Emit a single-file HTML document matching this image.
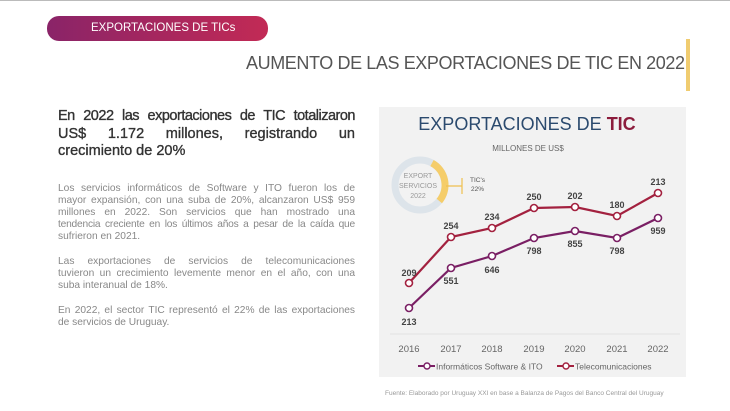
<!DOCTYPE html>
<html><head><meta charset="utf-8"><style>
body{margin:0;width:730px;height:411px;background:#fff;position:relative;overflow:hidden;font-family:"Liberation Sans",sans-serif}
.topline{position:absolute;left:0;top:0;width:730px;height:1px;background:#bbb}
.pill{position:absolute;left:47px;top:16px;width:221px;height:25px;border-radius:12px;background:linear-gradient(90deg,#8a2468,#c22a55);color:#fff;font-size:11.5px;line-height:25px;text-indent:44px}
.title{position:absolute;left:246px;top:53px;font-size:18px;color:#555;white-space:nowrap;letter-spacing:-0.4px}
.ybar{position:absolute;left:686px;top:39px;width:4px;height:52px;background:#f0cc70}
.h{position:absolute;left:58px;top:108px;width:297px;font-size:14.5px;line-height:17.5px;color:#333;-webkit-text-stroke:0.35px #333}
.h div,.p div{white-space:nowrap;text-align:justify;text-align-last:justify}
.h div.l,.p div.l{text-align-last:left}
.p{position:absolute;left:58px;width:297px;font-size:10.2px;line-height:12px;color:#888}
.src{position:absolute;left:385px;top:390px;font-size:6.5px;color:#999;white-space:nowrap}
</style></head><body>
<div class="topline"></div>
<div class="pill">EXPORTACIONES DE TICs</div>
<div class="title">AUMENTO DE LAS EXPORTACIONES DE TIC EN 2022</div>
<div class="ybar"></div>
<div class="h"><div style="letter-spacing:-0.5px">En 2022 las exportaciones de TIC totalizaron</div><div>US$ 1.172 millones, registrando un</div><div class="l">crecimiento de 20%</div></div>
<div class="p" style="top:183px"><div>Los servicios informáticos de Software y ITO fueron los de</div><div>mayor expansión, con una suba de 20%, alcanzaron US$ 959</div><div>millones en 2022. Son servicios que han mostrado una</div><div style="letter-spacing:-0.2px">tendencia creciente en los últimos años a pesar de la caída que</div><div class="l">sufrieron en 2021.</div></div>
<div class="p" style="top:256px"><div>Las exportaciones de servicios de telecomunicaciones</div><div>tuvieron un crecimiento levemente menor en el año, con una</div><div class="l">suba interanual de 18%.</div></div>
<div class="p" style="top:305px"><div>En 2022, el sector TIC representó el 22% de las exportaciones</div><div class="l">de servicios de Uruguay.</div></div>
<svg style="position:absolute;left:0;top:0" width="730" height="411">
<rect x="379" y="107" width="307" height="270" fill="#f2f2f2"/>
<text x="527" y="130" text-anchor="middle" font-size="18" fill="#2b4a6e" font-family="Liberation Sans">EXPORTACIONES DE <tspan fill="#8c1c3c" font-weight="bold">TIC</tspan></text>
<text x="528" y="151" text-anchor="middle" font-size="8" fill="#666" font-family="Liberation Sans">MILLONES DE US$</text>
<circle cx="420" cy="185" r="25" fill="none" stroke="#dde4ea" stroke-width="7"/>
<path d="M 432 163.1 A 25 25 0 0 1 439.3 201" fill="none" stroke="#f5cd6a" stroke-width="7"/>
<text x="418" y="178" text-anchor="middle" font-size="7" fill="#999">EXPORT</text>
<text x="418" y="188" text-anchor="middle" font-size="7" fill="#999">SERVICIOS</text>
<text x="418" y="198" text-anchor="middle" font-size="7" fill="#999">2022</text>
<path d="M446 186 H462 M462 178 V194" stroke="#f0c050" stroke-width="1.2"/>
<text x="470" y="182" font-size="6.5" fill="#555">TIC's</text>
<text x="471" y="191" font-size="6.5" fill="#555">22%</text>
<line x1="390" y1="334" x2="680" y2="334" stroke="#e2e2e2"/>
<g font-size="9.5" fill="#666" text-anchor="middle">
<text x="409" y="352">2016</text><text x="451" y="352">2017</text><text x="492" y="352">2018</text><text x="534" y="352">2019</text><text x="575" y="352">2020</text><text x="617" y="352">2021</text><text x="658" y="352">2022</text></g>
<polyline points="409,283 451,237 492,228 534,208 575,207 617,216 658,193" fill="none" stroke="#a3213f" stroke-width="2.2"/>
<polyline points="409,308 451,268 492,256 534,238 575,231 617,238 658,218" fill="none" stroke="#7a1f64" stroke-width="2.2"/>
<g fill="#fff" stroke="#a3213f" stroke-width="1.6">
<circle cx="409" cy="283" r="3.5"/><circle cx="451" cy="237" r="3.5"/><circle cx="492" cy="228" r="3.5"/><circle cx="534" cy="208" r="3.5"/><circle cx="575" cy="207" r="3.5"/><circle cx="617" cy="216" r="3.5"/><circle cx="658" cy="193" r="3.5"/></g>
<g fill="#fff" stroke="#7a1f64" stroke-width="1.6">
<circle cx="409" cy="308" r="3.5"/><circle cx="451" cy="268" r="3.5"/><circle cx="492" cy="256" r="3.5"/><circle cx="534" cy="238" r="3.5"/><circle cx="575" cy="231" r="3.5"/><circle cx="617" cy="238" r="3.5"/><circle cx="658" cy="218" r="3.5"/></g>
<g font-size="9" fill="#444" text-anchor="middle" font-weight="bold">
<text x="409" y="276">209</text><text x="451" y="229">254</text><text x="492" y="220">234</text><text x="534" y="200">250</text><text x="575" y="199">202</text><text x="617" y="208">180</text><text x="658" y="185">213</text>
<text x="409" y="325">213</text><text x="451" y="284">551</text><text x="492" y="273">646</text><text x="534" y="254">798</text><text x="575" y="247">855</text><text x="617" y="254">798</text><text x="658" y="234">959</text></g>
<line x1="418" y1="366" x2="435" y2="366" stroke="#7a1f64" stroke-width="2"/><circle cx="427" cy="366" r="3" fill="#fff" stroke="#7a1f64" stroke-width="1.4"/>
<text x="436" y="369.5" font-size="8.5" fill="#666">Informáticos Software &amp; ITO</text>
<line x1="557" y1="366" x2="574" y2="366" stroke="#a3213f" stroke-width="2"/><circle cx="566" cy="366" r="3" fill="#fff" stroke="#a3213f" stroke-width="1.4"/>
<text x="575" y="369.5" font-size="8.5" fill="#666">Telecomunicaciones</text>
</svg>
<div class="src">Fuente: Elaborado por Uruguay XXI en base a Balanza de Pagos del Banco Central del Uruguay</div>
</body></html>
